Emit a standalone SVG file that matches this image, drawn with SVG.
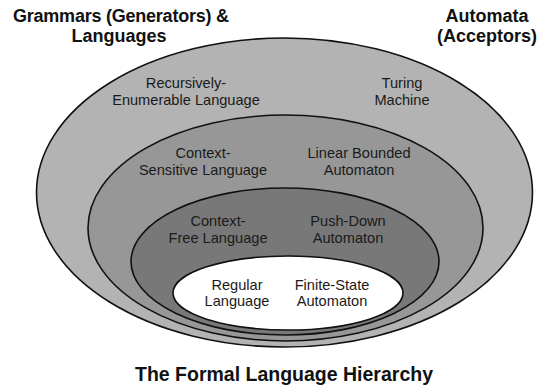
<svg xmlns="http://www.w3.org/2000/svg" width="544" height="387" viewBox="0 0 544 387">
  <style>
    .ring { stroke: #111; stroke-width: 1.6; }
    .head { font-family: "Liberation Sans", Arial, sans-serif; font-weight: bold; font-size: 18px; fill: #111; text-anchor: middle; }
    .title { font-family: "Liberation Sans", Arial, sans-serif; font-weight: bold; font-size: 19.5px; fill: #111; text-anchor: middle; }
    .lbl { font-family: "Liberation Sans", Arial, sans-serif; font-size: 14.6px; fill: #1a1a1a; text-anchor: middle; }
  </style>
  <rect width="544" height="387" fill="#ffffff"/>

  <!-- column headings -->
  <g id="heading-grammars">
    <text class="head" x="121" y="22" textLength="216" lengthAdjust="spacing">Grammars (Generators) &amp;</text>
    <text class="head" x="119" y="42">Languages</text>
  </g>
  <g id="heading-automata">
    <text class="head" x="487" y="22">Automata</text>
    <text class="head" x="487" y="42">(Acceptors)</text>
  </g>

  <!-- nested classes, outermost first -->
  <g id="recursively-enumerable">
    <ellipse class="ring" cx="284.5" cy="192.5" rx="248" ry="154.5" fill="#b3b3b3"/>
    <text class="lbl" x="186" y="88">Recursively-</text>
    <text class="lbl" x="186" y="105">Enumerable Language</text>
    <text class="lbl" x="402" y="88">Turing</text>
    <text class="lbl" x="402" y="105">Machine</text>
  </g>
  <g id="context-sensitive">
    <ellipse class="ring" cx="285.5" cy="228" rx="197.5" ry="113" fill="#979797"/>
    <text class="lbl" x="203" y="158">Context-</text>
    <text class="lbl" x="203" y="175">Sensitive Language</text>
    <text class="lbl" x="359" y="158">Linear Bounded</text>
    <text class="lbl" x="359" y="175">Automaton</text>
  </g>
  <g id="context-free">
    <ellipse class="ring" cx="285" cy="261.5" rx="154" ry="73.5" fill="#787878"/>
    <text class="lbl" x="218" y="226">Context-</text>
    <text class="lbl" x="218" y="243">Free Language</text>
    <text class="lbl" x="348" y="226">Push-Down</text>
    <text class="lbl" x="348" y="243">Automaton</text>
  </g>
  <g id="regular">
    <ellipse class="ring" cx="288" cy="293" rx="115" ry="37" fill="#ffffff"/>
    <text class="lbl" x="237" y="290">Regular</text>
    <text class="lbl" x="237" y="306">Language</text>
    <text class="lbl" x="332" y="290">Finite-State</text>
    <text class="lbl" x="332" y="306">Automaton</text>
  </g>

  <g id="connectors"/>

  <g id="caption">
    <text class="title" x="284" y="381">The Formal Language Hierarchy</text>
  </g>
</svg>
